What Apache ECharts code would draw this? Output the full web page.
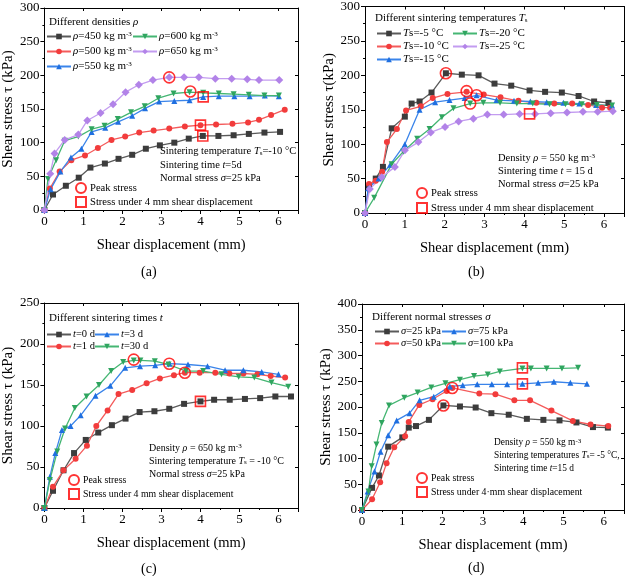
<!DOCTYPE html>
<html><head><meta charset="utf-8">
<script src="https://cdn.jsdelivr.net/npm/echarts@6/dist/echarts.min.js"></script>
<style>html,body{margin:0;padding:0;background:#fff}#c{width:627px;height:576px}</style>
</head><body><div id="c"></div>
<script>
// ---------- DATA ----------
// Panel (a): different densities
const a450x=[0,0.22,0.55,0.88,1.18,1.55,1.9,2.25,2.6,2.96,3.33,3.7,4.06,4.46,4.85,5.24,5.64,6.04];
const a450y=[0,23,36,48,63,69,76,82,91,96,100,106,110,110,111,113,115,116];
const a500x=[0,0.14,0.39,0.69,1.04,1.37,1.72,2.07,2.43,2.8,3.2,3.6,4.0,4.4,4.82,5.22,5.5,5.81,6.16];
const a500y=[0,32,57,74,81,92,104,109,115,118,121,124,126,127,128,130,134,141,149];
const a550x=[0,0.16,0.41,0.68,0.95,1.21,1.56,1.89,2.25,2.58,2.94,3.33,3.72,4.07,4.47,4.87,5.26,5.65,6.01];
const a550y=[0,31,57,78,91,116,122,131,140,151,161,162,163,168,169,169,169,170,169];
const a600x=[0,0.09,0.3,0.52,0.87,1.21,1.54,1.88,2.22,2.57,2.92,3.31,3.72,4.07,4.47,4.85,5.24,5.64,6.01];
const a600y=[0,46,74,103,109,120,125,135,145,154,166,173,175,174,173,172,171,170,170];
const a650x=[0,0.15,0.26,0.52,0.87,1.1,1.44,1.76,2.08,2.42,2.78,3.2,3.58,3.96,4.38,4.8,5.2,5.5,6.02];
const a650y=[0,54,84,104,112,133,144,157,175,186,193,197,197,197,195,195,194,193,193];
const aPeakX=[3.2,3.74], aPeakY=[197,176];
const aSqX=[4.07,4.0,4.06], aSqY=[168,126,110];

// Panel (b): different sintering temperatures
const b5x=[0,0.1,0.27,0.45,0.67,1.0,1.17,1.37,1.67,2.03,2.43,2.85,3.25,3.67,4.13,4.52,4.94,5.36,5.75,6.11];
const b5y=[0,38,50,67,123,140,159,162,175,203,201,200,188,185,178,176,175,170,162,160];
const b10x=[0,0.1,0.27,0.43,0.55,0.8,1.03,1.4,1.7,2.07,2.55,2.98,3.4,3.85,4.3,4.75,5.2,5.6,5.95,6.15];
const b10y=[0,42,47,60,103,122,149,155,167,173,176,172,168,163,160,159,159,157,153,153];
const b15x=[0,0.08,0.34,0.63,1.0,1.37,1.76,2.12,2.5,2.8,3.3,3.74,4.15,4.56,4.98,5.38,5.8,6.2];
const b15y=[0,36,50,70,100,150,161,164,167,171,164,163,162,161,160,159,157,156];
const b20x=[0,0.23,0.67,0.96,1.31,1.62,1.93,2.22,2.64,2.97,3.39,3.81,4.21,4.63,5.03,5.44,5.82,6.2];
const b20y=[0,22,71,89,108,122,139,152,159,160,160,159,159,158,158,158,157,156];
const b25x=[0,0.12,0.42,0.75,1.0,1.34,1.65,2.01,2.35,2.72,3.07,3.48,3.88,4.27,4.66,5.07,5.47,5.84,6.22];
const b25y=[0,35,52,67,91,103,117,125,133,137,143,143,144,144,145,146,147,147,148];
const bPeakX=[2.03,2.55,2.8,2.64], bPeakY=[203,177,171,159];
const bSqX=[4.13], bSqY=[144];

// Panel (c): different sintering times
const c0x=[0,0.22,0.49,0.76,1.06,1.38,1.73,2.08,2.44,2.82,3.2,3.58,4.0,4.35,4.75,5.14,5.53,5.92,6.32];
const c0y=[0,21,46,67,83,92,101,109,117,118,121,127,130,132,132,133,134,136,136];
const c1x=[0,0.22,0.49,0.8,1.09,1.33,1.62,1.9,2.25,2.62,2.96,3.32,3.6,3.98,4.38,4.74,5.1,5.46,5.8,6.17];
const c1y=[0,26,46,60,76,100,119,139,144,152,158,162,165,165,165,164,164,163,161,159];
const c3x=[0,0.14,0.28,0.45,0.67,0.93,1.31,1.69,2.07,2.45,2.84,3.2,3.68,4.18,4.63,5.1,5.57,6.0];
const c3y=[0,38,67,95,100,113,137,149,171,173,174,176,175,173,168,168,166,163];
const c30x=[0,0.14,0.33,0.53,0.78,1.08,1.4,1.71,2.02,2.29,2.46,2.83,3.18,3.63,4.07,4.54,4.98,5.38,5.82,6.25];
const c30y=[0,34,69,97,122,136,150,167,178,180,180,179,175,167,167,163,160,159,153,148];
const cPeakX=[2.29,3.2,3.6], cPeakY=[181,176,165];
const cSqX=[4.0], cSqY=[130];

// Panel (d): different normal stresses
const d25x=[0,0.25,0.42,0.65,1.0,1.16,1.34,1.66,2.02,2.43,2.82,3.21,3.64,4.09,4.5,4.9,5.32,5.73,6.1];
const d25y=[0,43,67,123,141,160,163,175,203,201,199,188,185,177,175,174,170,161,160];
const d50x=[0,0.25,0.45,0.61,0.8,1.07,1.16,1.42,1.75,2.1,2.24,2.91,3.31,3.78,4.17,4.7,5.23,5.67,6.11];
const d50y=[0,21,54,91,122,143,171,204,215,231,237,226,225,213,213,193,173,166,163];
const d75x=[0,0.14,0.31,0.46,0.65,0.86,1.18,1.43,1.78,2.18,2.5,2.86,3.22,3.6,3.98,4.37,4.76,5.17,5.58];
const d75y=[0,36,75,113,145,174,188,213,220,240,242,244,244,244,245,247,249,247,245];
const d100x=[0,0.16,0.24,0.36,0.49,0.67,1.05,1.38,1.72,2.07,2.43,2.78,3.12,3.42,3.98,4.19,4.58,4.96,5.36];
const d100y=[0,36,85,127,169,203,218,228,238,246,253,260,263,269,275,275,275,275,276];
const dPeakX=[2.02,2.24], dPeakY=[203,237];
const dSqX=[3.98,3.98], dSqY=[276,245];

const yMaxes=[300,300,250,400];
const xTicks=['0','1','2','3','4','5','6'];

// ---------- STYLE ----------
const F='Liberation Serif';
const C={k:'#3c3c3c',r:'#f23c3c',b:'#1f6fe0',g:'#2fa55f',p:'#b283e8'};
const CL={k:'#5a5a5a',r:'#f45b5b',b:'#3a84ea',g:'#45b673',p:'#c39cf0'};
const grids=[
 {left:38,top:8,width:260,height:202},
 {left:365,top:4,width:259,height:209},
 {left:37,top:303,width:261,height:205},
 {left:362,top:304,width:264,height:206}
];
function legRich(sz){
  return {
   i:{fontFamily:F,fontStyle:'italic',fontSize:sz,color:'#000'},
   sup:{fontFamily:F,fontSize:7,verticalAlign:'top',color:'#000'},
   sub:{fontFamily:F,fontSize:7,verticalAlign:'bottom',color:'#000'}
  };
}
const pair=(xs,ys)=>xs.map((x,i)=>[x,ys[i]]);
const SYM={k:'rect',r:'circle',b:'triangle',g:'triangle',p:'diamond'};
const series=[];
function line(p,name,xs,ys,c){
  series.push({type:'line',name,xAxisIndex:2*p,yAxisIndex:2*p,data:pair(xs,ys),
    symbol:SYM[c],symbolSize:c==='p'?8:6,symbolRotate:c==='g'?180:0,
    itemStyle:{color:C[c]},lineStyle:{color:CL[c],width:1.3},z:3});
}
function marks(p,px,py,sx,sy,sqName){
  series.push({type:'scatter',name:'Peak stress',xAxisIndex:2*p,yAxisIndex:2*p,data:pair(px,py),
    symbol:'circle',symbolSize:11,itemStyle:{color:'rgba(0,0,0,0)',borderColor:'#ff0000',borderWidth:1.6},z:5});
  series.push({type:'scatter',name:sqName,xAxisIndex:2*p,yAxisIndex:2*p,data:pair(sx,sy),
    symbol:'rect',symbolSize:10,itemStyle:{color:'rgba(0,0,0,0)',borderColor:'#ff0000',borderWidth:1.6},z:5});
}
line(0,'a450',a450x,a450y,'k');line(0,'a500',a500x,a500y,'r');line(0,'a550',a550x,a550y,'b');
line(0,'a600',a600x,a600y,'g');line(0,'a650',a650x,a650y,'p');
line(1,'b5',b5x,b5y,'k');line(1,'b10',b10x,b10y,'r');line(1,'b15',b15x,b15y,'b');
line(1,'b20',b20x,b20y,'g');line(1,'b25',b25x,b25y,'p');
line(2,'c0',c0x,c0y,'k');line(2,'c1',c1x,c1y,'r');line(2,'c3',c3x,c3y,'b');line(2,'c30',c30x,c30y,'g');
line(3,'d25',d25x,d25y,'k');line(3,'d50',d50x,d50y,'r');line(3,'d75',d75x,d75y,'b');line(3,'d100',d100x,d100y,'g');
const SQ='Stress under 4 mm shear displacement', SQD='Stress under 4\u00b7mm shear displacement';
marks(0,aPeakX,aPeakY,aSqX,aSqY,SQ);marks(1,bPeakX,bPeakY,bSqX,bSqY,SQ);
marks(2,cPeakX,cPeakY,cSqX,cSqY,SQ);marks(3,dPeakX,dPeakY,dSqX,dSqY,SQD);

const LBL={
 a450:'{i|ρ}=450 kg m{sup|-3}',a500:'{i|ρ}=500 kg m{sup|-3}',a550:'{i|ρ}=550 kg m{sup|-3}',
 a600:'{i|ρ}=600 kg m{sup|-3}',a650:'{i|ρ}=650 kg m{sup|-3}',
 b5:'{i|T}s=-5 °C',b10:'{i|T}s=-10 °C',b15:'{i|T}s=-15 °C',b20:'{i|T}s=-20 °C',b25:'{i|T}s=-25 °C',
 c0:'{i|t}=0 d',c1:'{i|t}=1 d',c3:'{i|t}=3 d',c30:'{i|t}=30 d',
 d25:'{i|σ}=25 kPa',d50:'{i|σ}=50 kPa',d75:'{i|σ}=75 kPa',d100:'{i|σ}=100 kPa'
};
function leg(data,left,top,gap,sz){
  return {data,left,top,orient:'vertical',itemGap:gap,itemWidth:24,itemHeight:7,padding:0,
    selectedMode:false,formatter:n=>LBL[n]||n,
    textStyle:{fontFamily:F,fontSize:sz,color:'#000',padding:[0,0,0,-3],rich:legRich(sz)}};
}
function mleg(name2,left,top,gap,sz){
  return {data:['Peak stress',name2],left,top,orient:'vertical',itemGap:gap,itemWidth:10,itemHeight:10,padding:0,
    selectedMode:false,textStyle:{fontFamily:F,fontSize:sz,color:'#000',padding:[0,0,0,-1]}};
}
const legends=[
 leg(['a450','a500','a550'],46,31,4,11),leg(['a600','a650'],132,31,4,11),
 leg(['b5','b10','b15'],376,28,2,11),leg(['b20','b25'],452,28,2,11),
 leg(['c0','c1'],46,329,1,10.5),leg(['c3','c30'],94,329,1,10.5),
 leg(['d25','d50'],374,326,1,10.5),leg(['d75','d100'],441,326,1,10.5),
 mleg(SQ,75,182,2,10.6),mleg(SQ,416,187,3,10.6),mleg(SQ,68,474,2,9.8),mleg(SQD,416,472,2,9.8)
];

function xAx(p,name){
  return [{type:'value',gridIndex:p,min:0,max:6.5,interval:1,position:'bottom',
    axisLine:{onZero:false,lineStyle:{color:'#000',width:1}},axisTick:{length:4,lineStyle:{color:'#000'}},
    minorTick:{show:true,splitNumber:2,length:2,lineStyle:{color:'#000'}},splitLine:{show:false},
    axisLabel:{fontFamily:F,fontSize:13,color:'#000',margin:5,formatter:v=>Number.isInteger(v)?xTicks[v]:''},
    name,nameLocation:'middle',nameGap:28,nameTextStyle:{fontFamily:F,fontSize:14.5,color:'#000'}},
   {type:'value',gridIndex:p,min:0,max:6.5,interval:1,position:'top',
    axisLine:{onZero:false,lineStyle:{color:'#000',width:1}},axisTick:{inside:true,length:3,lineStyle:{color:'#000'}},
    splitLine:{show:false},axisLabel:{show:false}}];
}
function yAx(p,max,name){
  return [{type:'value',gridIndex:p,min:0,max,interval:50,position:'left',
    axisLine:{show:true,onZero:false,lineStyle:{color:'#000',width:1}},axisTick:{show:true,length:4,lineStyle:{color:'#000'}},
    minorTick:{show:true,splitNumber:2,length:2,lineStyle:{color:'#000'}},splitLine:{show:false},
    axisLabel:{fontFamily:F,fontSize:13,color:'#000',margin:5},
    name,nameLocation:'middle',nameRotate:90,nameGap:26,nameTextStyle:{fontFamily:F,fontSize:15,color:'#000'}},
   {type:'value',gridIndex:p,min:0,max,interval:50,position:'right',
    axisLine:{show:true,onZero:false,lineStyle:{color:'#000',width:1}},axisTick:{show:true,inside:true,length:3,lineStyle:{color:'#000'}},
    splitLine:{show:false},axisLabel:{show:false}}];
}
const XN='Shear displacement (mm)';
const xAxis=[].concat(xAx(0,XN),xAx(1,XN),xAx(2,XN),xAx(3,XN));
const yAxis=[].concat(yAx(0,yMaxes[0],'Shear stress τ (kPa)'),yAx(1,yMaxes[1],'Shear stress τ(kPa)'),
  yAx(2,yMaxes[2],'Shear stress τ (kPa)'),yAx(3,yMaxes[3],'Shear stress τ (kPa)'));

function mkRich(sz){
  return {
   i:{fontFamily:F,fontStyle:'italic',fontSize:sz,fill:'#000'},
   sup:{fontFamily:F,fontSize:7,verticalAlign:'top',fill:'#000'},
   sub:{fontFamily:F,fontSize:7,verticalAlign:'bottom',fill:'#000'}
  };
}
function txt(s,left,top,size){
  const sz=size||10.5;
  return {type:'text',left,top,z:10,style:{text:s,fontFamily:F,fontSize:sz,fill:'#000',rich:mkRich(sz)}};
}
const graphic=[
 txt('Different densities {i|ρ}',49,17,11),
 txt('Sintering temperature {i|T}{sub|s}=-10 °C',160,146),
 txt('Sintering time {i|t}=5d',160,160),
 txt('Normal stress {i|σ}=25 kPa',160,173),
 txt('(a)',141,265,14),
 txt('Different sintering temperatures {i|T}{sub|s}',375,13,11),
 txt('Density {i|ρ} = 550 kg m{sup|-3}',498,153),
 txt('Sintering time {i|t} = 15 d',498,166),
 txt('Normal stress {i|σ}=25 kPa',498,179),
 txt('(b)',468,265,14),
 txt('Different sintering times {i|t}',49,313,11),
 txt('Density {i|ρ} = 650 kg m{sup|-3}',149,443,10),
 txt('Sintering temperature {i|T}{sub|s} = -10 °C',149,456,10),
 txt('Normal stress {i|σ}=25 kPa',149,469,10),
 txt('(c)',141,562,14),
 txt('Different normal stresses {i|σ}',372,312,11),
 txt('Density {i|ρ} = 550 kg m{sup|-3}',494,438,9.4),
 txt('Sintering temperatures {i|T}{sub|s}= -5 °C,',494,451,9.4),
 txt('Sintering time {i|t}=15 d',494,464,9.4),
 txt('(d)',468,561,14)
];

const chart=echarts.init(document.getElementById('c'),null,{renderer:'canvas'});
chart.setOption({animation:false,backgroundColor:'#fff',grid:grids,xAxis,yAxis,legend:legends,series,graphic});
</script></body></html>
